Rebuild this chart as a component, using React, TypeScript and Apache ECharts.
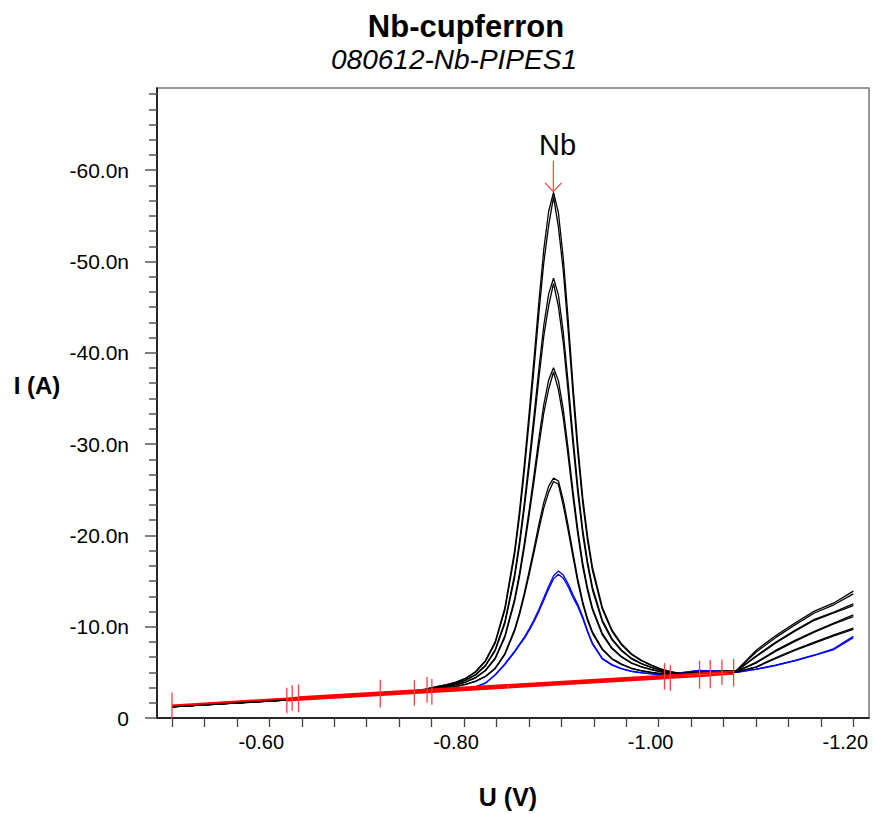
import React, { useEffect, useRef } from "react";
import * as echarts from "echarts";

// Potential U (V)
const U = [
  -0.5, -0.52, -0.54, -0.56, -0.58, -0.6, -0.62, -0.64, -0.66, -0.68, -0.7, -0.72, -0.74, -0.76,
  -0.772, -0.782, -0.792, -0.802, -0.812, -0.822, -0.832, -0.842, -0.852,
  -0.857, -0.862, -0.867, -0.872, -0.877, -0.882, -0.887, -0.892, -0.897, -0.902, -0.907, -0.912, -0.917, -0.922, -0.927, -0.932,
  -0.942, -0.952, -0.962, -0.972, -0.982, -0.992, -1.002, -1.012, -1.022,
  -1.04, -1.06, -1.08, -1.1, -1.12, -1.14, -1.16, -1.18, -1.2,
];

// Current magnitudes (nA); plotted as negative currents
const A1 = [1.22,1.35,1.48,1.60,1.72,1.85,1.98,2.11,2.24,2.37,2.50,2.63,2.77,3.15,3.44,3.66,3.94,4.38,5.09,6.29,8.34,12.07,18.32,22.65,27.79,33.48,39.43,45.64,51.32,55.50,57.57,55.34,50.38,43.68,36.45,29.75,24.15,19.87,16.51,12.17,9.65,8.10,7.03,6.34,5.82,5.39,5.09,4.88,5.05,5.10,5.20,7.40,9.00,10.40,11.70,12.60,13.90];
const A2 = [1.22,1.35,1.48,1.60,1.72,1.85,1.98,2.11,2.24,2.37,2.50,2.63,2.77,3.14,3.43,3.64,3.92,4.34,5.04,6.20,8.19,11.81,17.88,22.08,27.06,32.58,38.36,44.38,49.89,53.95,57.07,53.79,48.98,42.49,35.47,28.98,23.54,19.39,16.14,11.93,9.49,7.98,6.95,6.28,5.78,5.36,5.07,4.87,5.05,5.10,5.20,7.20,8.80,10.20,11.50,12.40,13.60];
const B1 = [1.23,1.36,1.49,1.61,1.73,1.86,1.99,2.12,2.25,2.38,2.51,2.64,2.77,3.11,3.37,3.56,3.80,4.18,4.77,5.77,7.47,10.56,15.73,19.31,23.56,28.26,33.18,38.31,43.00,46.45,48.17,46.34,42.25,36.73,30.76,25.24,20.62,17.10,14.33,10.76,8.69,7.43,6.55,5.99,5.57,5.23,4.99,4.83,5.00,5.08,5.15,6.80,8.30,9.60,10.80,11.60,12.50];
const B2 = [1.23,1.36,1.49,1.61,1.73,1.86,1.99,2.12,2.25,2.38,2.51,2.64,2.77,3.10,3.36,3.55,3.78,4.15,4.72,5.70,7.35,10.35,15.36,18.84,22.96,27.52,32.29,37.27,41.82,45.17,47.60,45.06,41.10,35.74,29.95,24.60,20.12,16.71,14.02,10.56,8.55,7.33,6.48,5.94,5.54,5.21,4.98,4.82,5.00,5.08,5.15,6.70,8.20,9.50,10.70,11.50,12.30];
const C1 = [1.24,1.37,1.50,1.62,1.74,1.87,2.00,2.13,2.26,2.39,2.52,2.65,2.78,3.07,3.29,3.45,3.65,3.96,4.44,5.23,6.57,9.00,13.04,15.83,19.15,22.82,26.66,30.67,34.33,37.03,38.37,36.95,33.77,29.47,24.83,20.54,16.95,14.21,12.06,9.29,7.69,6.72,6.05,5.63,5.32,5.07,4.90,4.78,4.98,5.05,5.10,6.10,7.40,8.50,9.50,10.40,11.30];
const C2 = [1.24,1.37,1.50,1.62,1.74,1.87,2.00,2.13,2.26,2.39,2.52,2.65,2.78,3.07,3.28,3.44,3.63,3.94,4.40,5.17,6.47,8.83,12.75,15.46,18.68,22.24,25.97,29.86,33.41,36.03,37.90,35.96,32.87,28.70,24.20,20.04,16.56,13.90,11.82,9.13,7.58,6.65,6.00,5.59,5.29,5.05,4.89,4.77,4.98,5.05,5.10,6.00,7.30,8.40,9.40,10.30,11.10];
const D1 = [1.24,1.37,1.50,1.63,1.75,1.88,2.01,2.14,2.27,2.40,2.53,2.66,2.79,3.02,3.19,3.32,3.47,3.70,4.03,4.57,5.46,7.06,9.71,11.54,13.71,16.11,18.61,21.23,23.62,25.39,26.27,25.96,23.87,21.08,18.08,15.18,12.75,10.86,9.43,7.59,6.52,5.90,5.46,5.18,5.01,4.86,4.78,4.72,4.95,5.00,5.05,5.60,6.60,7.50,8.30,9.10,9.85];
const D2 = [1.24,1.37,1.50,1.63,1.75,1.88,2.01,2.14,2.27,2.40,2.53,2.66,2.79,3.02,3.18,3.31,3.46,3.69,4.01,4.53,5.40,6.95,9.52,11.30,13.41,15.74,18.16,20.70,23.02,24.74,25.90,25.60,23.27,20.56,17.65,14.84,12.49,10.65,9.27,7.49,6.45,5.85,5.42,5.16,4.99,4.85,4.77,4.72,4.95,5.00,5.05,5.55,6.50,7.40,8.20,9.00,9.70];
const E1 = [1.25,1.38,1.51,1.64,1.76,1.89,2.02,2.15,2.28,2.41,2.53,2.66,2.79,2.93,3.01,3.07,3.13,3.21,3.41,3.82,4.74,5.92,7.33,8.10,8.87,9.77,10.78,11.92,13.18,14.44,15.58,16.10,15.65,14.69,13.49,12.42,11.10,9.54,8.21,6.55,5.85,5.40,5.12,4.97,4.85,4.75,4.80,4.95,5.20,5.15,5.00,5.35,5.80,6.30,6.90,7.60,8.95];
const E2 = [1.25,1.38,1.51,1.64,1.76,1.89,2.02,2.15,2.28,2.41,2.53,2.66,2.79,2.93,3.01,3.07,3.13,3.21,3.41,3.81,4.70,5.85,7.22,7.97,8.71,9.59,10.57,11.68,12.90,14.12,15.24,15.75,15.31,14.38,13.21,12.18,10.89,9.38,8.09,6.47,5.79,5.37,5.10,4.95,4.84,4.74,4.79,4.93,5.18,5.13,5.00,5.32,5.75,6.25,6.85,7.50,8.80];

const BLACK_CURVES = [A1, A2, B1, B2, C1, C2, D1, D2];
const BLUE_CURVES = [E1, E2];

// Baseline segments (red)
const BASE_START_U = [-0.5, -0.618, -0.6235, -0.63, -0.714, -0.749, -0.762, -0.767, -0.63, -0.714];
const BASE_START_I = [1.38, 1.92, 2.2, 2.02, 2.78, 2.74, 3.08, 2.86, 2.26, 2.54];
const BASE_END_U = [-1.006, -1.012, -1.042, -1.053, -1.065, -1.077, -1.042, -1.053, -1.077, -1.006];
const BASE_END_I = [4.62, 4.38, 4.86, 4.66, 5.02, 4.84, 4.6, 4.95, 5.1, 4.52];

// Peak annotation
const PEAK_NAME = "Nb";
const PEAK_U = -0.8918;
const PEAK_I = 57.65;

// Axis ticks
const X_LABELS = [-0.6, -0.8, -1.0, -1.2];
const Y_MAJOR = [0, -10, -20, -30, -40, -50, -60];

const FONT = "'Liberation Sans', Arial, Helvetica, sans-serif";

export default function App() {
  const ref = useRef<HTMLDivElement>(null);

  useEffect(() => {
    const chart = echarts.init(ref.current!, null, { renderer: "svg" });

    const xTicks: number[] = [];
    for (let k = 0; k <= 21; k++) xTicks.push(-0.5 - k / 30);
    const yMinor: number[] = [];
    for (let k = 1; k <= 41; k++) if (k % 6 !== 0) yMinor.push(-(k * 10) / 6);

    const curveSeries = (vals: number[], color: string) => ({
      type: "line",
      data: U.map((u, i) => [u, -vals[i]]),
      symbol: "none",
      silent: true,
      lineStyle: { color, width: 1.3 },
      z: 2,
    });

    const baseData: any[] = [];
    const markData: any[] = [];
    for (let i = 0; i < BASE_START_U.length; i++) {
      baseData.push([BASE_START_U[i], -BASE_START_I[i]]);
      baseData.push([BASE_END_U[i], -BASE_END_I[i]]);
      baseData.push([BASE_END_U[i], "-"]);
      markData.push([BASE_START_U[i], -BASE_START_I[i] - 1.4]);
      markData.push([BASE_START_U[i], -BASE_START_I[i] + 1.4]);
      markData.push([BASE_START_U[i], "-"]);
      markData.push([BASE_END_U[i], -BASE_END_I[i] - 1.4]);
      markData.push([BASE_END_U[i], -BASE_END_I[i] + 1.4]);
      markData.push([BASE_END_U[i], "-"]);
    }

    const series: any[] = [
      ...BLUE_CURVES.map((c) => curveSeries(c, "#0000ff")),
      ...BLACK_CURVES.map((c) => curveSeries(c, "#000000")),
      {
        type: "line",
        data: baseData,
        symbol: "none",
        silent: true,
        connectNulls: false,
        lineStyle: { color: "#ff0000", width: 2 },
        z: 4,
      },
      {
        type: "line",
        data: markData,
        symbol: "none",
        silent: true,
        connectNulls: false,
        lineStyle: { color: "#ff4040", width: 1.3 },
        z: 5,
      },
      {
        type: "line",
        data: [
          [PEAK_U, -(PEAK_I + 3.4)],
          [PEAK_U, -PEAK_I],
        ],
        symbol: "none",
        silent: true,
        lineStyle: { color: "#ff4040", width: 1.2 },
        z: 5,
      },
      {
        type: "line",
        data: [
          [PEAK_U + 0.0085, -(PEAK_I + 0.95)],
          [PEAK_U, -PEAK_I],
          [PEAK_U - 0.0085, -(PEAK_I + 0.95)],
        ],
        symbol: "none",
        silent: true,
        lineStyle: { color: "#ff4040", width: 1.2 },
        z: 5,
      },
      {
        type: "scatter",
        data: [[PEAK_U - 0.0043, -(PEAK_I + 3.4)]],
        symbolSize: 0,
        silent: true,
        itemStyle: { color: "#000", opacity: 1 },
        label: {
          show: true,
          position: "top",
          distance: 1,
          formatter: PEAK_NAME,
          fontSize: 29,
          fontFamily: FONT,
          color: "#000",
          opacity: 1,
          textBorderWidth: 0,
        },
        z: 6,
      },
    ];

    chart.setOption({
      animation: false,
      backgroundColor: "#ffffff",
      grid: {
        left: 157,
        right: 4,
        top: 88,
        bottom: 96,
        show: true,
        borderColor: "#7a7a7a",
        borderWidth: 1.5,
      },
      xAxis: {
        type: "value",
        inverse: true,
        min: -1.2161,
        max: -0.4846,
        axisLine: { show: true, onZero: false, lineStyle: { color: "#000", width: 1.5 } },
        axisTick: {
          show: true,
          length: 9,
          customValues: xTicks,
          lineStyle: { color: "#444", width: 1.3 },
        },
        axisLabel: {
          customValues: X_LABELS,
          formatter: (v: number) => v.toFixed(2),
          fontSize: 20,
          fontFamily: FONT,
          color: "#000",
          margin: 14,
          padding: [0, 16, 0, 0],
        },
        splitLine: { show: false },
      },
      yAxis: [
        {
          type: "value",
          inverse: true,
          min: -69,
          max: 0,
          axisLine: { show: true, onZero: false, lineStyle: { color: "#000", width: 1.5 } },
          axisTick: {
            show: true,
            length: 12,
            customValues: Y_MAJOR,
            lineStyle: { color: "#555", width: 1.5 },
          },
          axisLabel: {
            customValues: Y_MAJOR,
            formatter: (v: number) => (v === 0 ? "0" : v.toFixed(1) + "n"),
            fontSize: 21,
            fontFamily: FONT,
            color: "#000",
            margin: 28,
            padding: [0, 0, 12, 0],
          },
          splitLine: { show: false },
        },
        {
          type: "value",
          inverse: true,
          min: -69,
          max: 0,
          position: "left",
          axisLine: { show: false },
          axisTick: {
            show: true,
            length: 8,
            customValues: yMinor,
            lineStyle: { color: "#555", width: 1.5 },
          },
          axisLabel: { show: false },
          splitLine: { show: false },
        },
      ],
      graphic: [
        {
          type: "text",
          x: 466,
          y: 26,
          style: {
            text: "Nb-cupferron",
            align: "center",
            verticalAlign: "middle",
            fontSize: 31,
            fontWeight: "bold",
            fontFamily: FONT,
            fill: "#000",
          },
        },
        {
          type: "text",
          x: 454,
          y: 59,
          style: {
            text: "080612-Nb-PIPES1",
            align: "center",
            verticalAlign: "middle",
            fontSize: 28,
            fontStyle: "italic",
            fontFamily: FONT,
            fill: "#000",
          },
        },
        {
          type: "text",
          x: 37,
          y: 385,
          style: {
            text: "I (A)",
            align: "center",
            verticalAlign: "middle",
            fontSize: 24,
            fontWeight: "bold",
            fontFamily: FONT,
            fill: "#000",
          },
        },
        {
          type: "text",
          x: 508,
          y: 797,
          style: {
            text: "U (V)",
            align: "center",
            verticalAlign: "middle",
            fontSize: 25,
            fontWeight: "bold",
            fontFamily: FONT,
            fill: "#000",
          },
        },
      ],
      series,
    });

    return () => chart.dispose();
  }, []);

  return (
    <div
      ref={ref}
      style={{ position: "fixed", left: 0, top: 0, width: 873, height: 814 }}
    />
  );
}
